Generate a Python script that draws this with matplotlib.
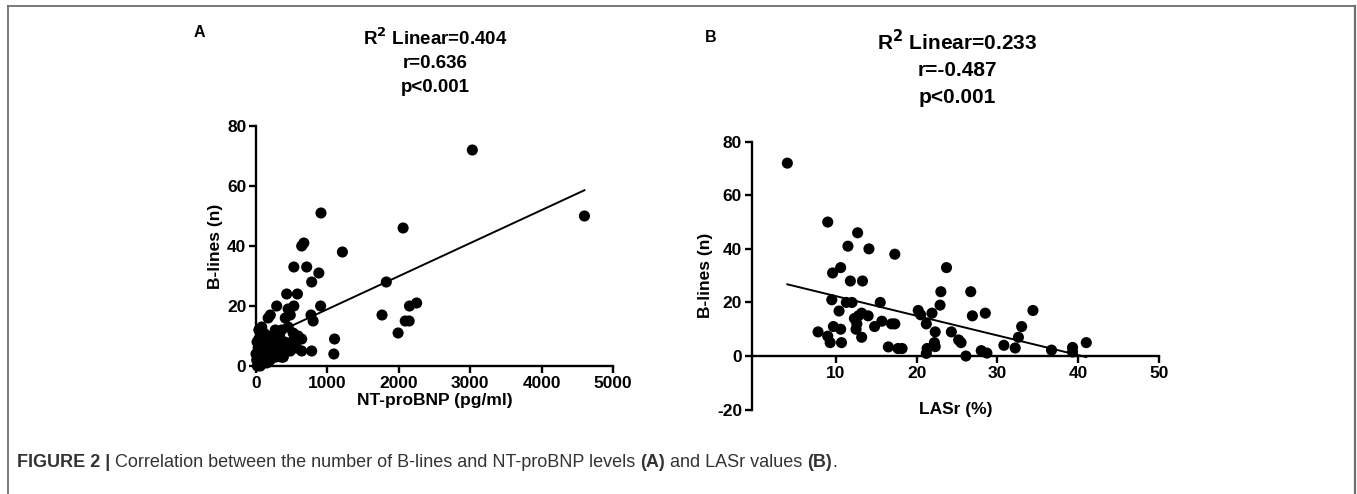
import matplotlib
matplotlib.use("Agg")
import matplotlib.pyplot as plt
from matplotlib.lines import Line2D
import numpy as np

plt.rcParams['font.family'] = ['Liberation Sans', 'DejaVu Sans']
plt.rcParams['axes.unicode_minus'] = False

# ---------------- data ----------------
# Panel A: NT-proBNP (pg/ml) vs B-lines (n)
ntprobnp = [3030, 4600, 910, 2060, 1210, 640, 670, 530, 710, 880, 780, 1825, 430, 580,
            290, 530, 905, 2250, 2150, 1765, 2090, 2145, 1990, 1100, 1090, 770, 800, 640,
            780, 480, 380,
            20, 40, 60, 80, 100, 30, 50, 70, 90, 120, 150, 180, 200, 240, 280, 320, 350,
            380, 420, 30, 60, 100, 140, 170, 210, 260, 300, 340, 400, 460, 520, 570, 40,
            80, 130, 170, 230, 290, 330, 400, 500, 520, 590, 640, 40, 80, 170, 200, 270,
            360, 450, 410, 480, 450, 60, 10, 0, 15, 110]
blines_a = [72, 50, 51, 46, 38, 40, 41, 33, 33, 31, 28, 28, 24, 24,
            20, 20, 20, 21, 20, 17, 15, 15, 11, 9, 4, 17, 15, 5,
            5, 5, 3,
            0, 1, 0, 2, 1, 3, 4, 2, 3, 2, 1, 3, 2, 4, 3, 4, 3,
            3, 5, 6, 7, 6, 5, 7, 6, 6, 7, 6, 7, 6, 6, 6, 9,
            10, 8, 10, 8, 9, 10, 8, 8, 11, 10, 9, 12, 13, 16, 17, 12,
            12, 13, 16, 17, 19, 5, 2, 4, 8, 11]
fit_a_slope = 0.01102
fit_a_intercept = 7.9

# Panel B: LASr (%) vs B-lines (n)
lasr = [4.0, 9.0, 12.7, 11.5, 14.1, 17.3, 23.7, 9.6, 10.6, 11.8, 13.3, 23.0, 26.7,
        9.5, 11.3, 12.0, 15.5, 10.4, 20.2, 20.5, 21.9, 22.9, 26.9, 28.5, 34.4, 33.0,
        32.6, 32.2, 30.8, 36.7, 39.3, 39.3, 41.0, 21.2, 22.3, 22.2, 22.3, 21.3, 21.2,
        24.3, 25.2, 25.5, 26.1, 28.0, 28.7, 7.8, 9.0, 9.3, 9.7, 10.6, 10.7, 12.3, 12.6,
        12.8, 13.2, 14.0, 12.5, 13.2, 14.8, 15.7, 16.9, 17.3, 16.5, 17.7, 18.2]
blines_b = [72, 50, 46, 41, 40, 38, 33, 31, 33, 28, 28, 24, 24,
            21, 20, 20, 20, 16.8, 17, 15.4, 16, 19, 15, 16, 17, 11,
            7, 3, 4, 2.2, 3.2, 1.5, 5, 12, 9, 5, 3.5, 2.8, 1,
            9, 6, 5, 0, 2, 1.1, 9, 7.4, 5, 11, 10, 5, 14, 12,
            15, 16, 15, 10, 7, 11, 13, 12, 12, 3.4, 2.8, 2.8]
fit_b_slope = -0.734
fit_b_intercept = 29.7

ticks_a_x = [0, 1000, 2000, 3000, 4000, 5000]
ticks_a_y = [0, 20, 40, 60, 80]
ticks_b_x = [10, 20, 30, 40, 50]
ticks_b_y = [-20, 0, 20, 40, 60, 80]

# ---------------- figure ----------------
W, H = 1357, 494
fig = plt.figure(figsize=(W / 100, H / 100), dpi=100)
bg = fig.add_axes([0, 0, 1, 1])
bg.set_xlim(0, W)
bg.set_ylim(H, 0)
bg.axis('off')

# frame
frame_col = '#6e6e6e'
bg.add_line(Line2D([8, 1355], [6, 6], color=frame_col, lw=1.3))
bg.add_line(Line2D([8, 8], [6, H + 5], color=frame_col, lw=1.3, clip_on=False))
bg.add_line(Line2D([1355, 1355], [6, H + 5], color=frame_col, lw=1.6, clip_on=False))

tick_fs = 12.5
lab_fs = 12.5
lw_ax = 1.7
dot_s = 64


def style(ax):
    for s in ['top', 'right']:
        ax.spines[s].set_visible(False)
    for s in ['left', 'bottom']:
        ax.spines[s].set_linewidth(lw_ax)
    ax.tick_params(direction='out', length=5, width=lw_ax, labelsize=tick_fs, pad=2)
    for lbl in ax.get_xticklabels() + ax.get_yticklabels():
        lbl.set_fontweight('bold')


# Panel A
axA = fig.add_axes([256 / W, 1 - 366 / H, 357 / W, 240 / H])
axA.scatter(ntprobnp, blines_a, s=dot_s, color='black', edgecolors='none', clip_on=False, zorder=3)
xa = np.array([min(ntprobnp), max(ntprobnp)])
axA.plot(xa, fit_a_intercept + fit_a_slope * xa, color='black', lw=1.4, zorder=2)
axA.set_xlim(0, 5000)
axA.set_ylim(0, 80)
axA.set_xticks(ticks_a_x)
axA.set_yticks(ticks_a_y)
style(axA)
axA.set_xlabel('NT-proBNP (pg/ml)', fontsize=lab_fs, fontweight='bold', labelpad=2)
axA.set_ylabel('B-lines (n)', fontsize=lab_fs, fontweight='bold', labelpad=3)

# Panel B
xb0 = -0.4
axB = fig.add_axes([751.8 / W, 1 - 409.6 / H, (1159 - 751.8) / W, 267.9 / H])
axB.scatter(lasr, blines_b, s=dot_s, color='black', edgecolors='none', clip_on=False, zorder=3)
xb = np.array([min(lasr), max(lasr)])
axB.plot(xb, fit_b_intercept + fit_b_slope * xb, color='black', lw=1.4, zorder=2)
axB.set_xlim(xb0, 50)
axB.set_ylim(-20, 80)
axB.set_xticks(ticks_b_x)
axB.set_yticks(ticks_b_y)
axB.spines['bottom'].set_position(('data', 0))
style(axB)
axB.set_xlabel('LASr (%)', fontsize=lab_fs, fontweight='bold', labelpad=0)
axB.xaxis.set_label_coords(0.5, 0.03)
axB.set_ylabel('B-lines (n)', fontsize=lab_fs, fontweight='bold', labelpad=3)

# Panel letters and titles
bg.text(194, 37, 'A', fontsize=11.5, fontweight='bold', ha='left', va='baseline')
bg.text(705, 42, 'B', fontsize=11.5, fontweight='bold', ha='left', va='baseline')

titleA = ['R$^{\\mathbf{2}}$ Linear=0.404', 'r=0.636', 'p<0.001']
titleB = ['R$^{\\mathbf{2}}$ Linear=0.233', 'r=-0.487', 'p<0.001']
for i, t in enumerate(titleA):
    bg.text(435, 45 + i * 23.5, t, fontsize=13.5, fontweight='bold', ha='center', va='baseline')
for i, t in enumerate(titleB):
    bg.text(957, 50 + i * 26.5, t, fontsize=15, fontweight='bold', ha='center', va='baseline')

# caption
cap_col = '#333333'
cap_fs = 13.0
parts = [('FIGURE 2 | ', 'bold'),
         ('Correlation between the number of B-lines and NT-proBNP levels ', 'normal'),
         ('(A)', 'bold'), (' and LASr values ', 'normal'), ('(B)', 'bold'), ('.', 'normal')]
prev = bg.text(17, 467, parts[0][0], fontsize=cap_fs, fontweight=parts[0][1], color=cap_col,
               ha='left', va='baseline')
for txt, wt in parts[1:]:
    prev = bg.annotate(txt, xy=(1, 0), xycoords=prev, fontsize=cap_fs, fontweight=wt,
                       color=cap_col, ha='left', va='bottom')

fig.savefig('out.png', dpi=100)
